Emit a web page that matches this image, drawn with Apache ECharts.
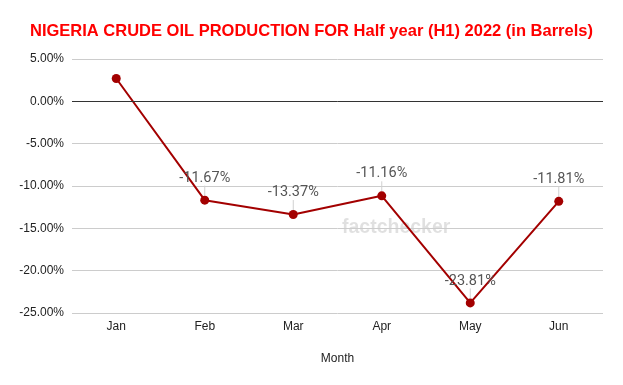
<!DOCTYPE html>
<html><head><meta charset="utf-8">
<script src="https://cdn.jsdelivr.net/npm/echarts@6/dist/echarts.min.js"></script>
<style>html,body{margin:0;padding:0;background:#fff}#c{width:623px;height:385px}</style>
</head><body><div id="c"></div>
<script>
var months = ['Jan','Feb','Mar','Apr','May','Jun'];
var changes = [2.70, -11.67, -13.37, -11.16, -23.81, -11.81];
var showLabel = [false, true, true, true, true, true];

var chart = echarts.init(document.getElementById('c'));
chart.setOption({
  animation: false,
  backgroundColor: '#fff',
  title: {
    text: 'NIGERIA CRUDE OIL PRODUCTION FOR Half year (H1) 2022 (in Barrels)',
    left: 'center', top: 18,
    textStyle: {color: '#ff0000', fontFamily: 'Liberation Sans, Arial', fontWeight: 'bold', fontSize: 16.5}
  },
  graphic: [{
    type: 'text', left: 342, top: 218,
    style: {text: 'factchecker', fill: 'rgba(0,0,0,0.12)', font: 'bold 19.5px "Liberation Sans", Arial'}
  }],
  grid: {left: 72, right: 20, top: 59, bottom: 72},
  xAxis: {
    type: 'category', data: months, boundaryGap: true,
    name: 'Month', nameLocation: 'middle', nameGap: 40,
    nameTextStyle: {color: '#222', fontFamily: 'Liberation Sans, Arial', fontSize: 12},
    axisLine: {show: false}, axisTick: {show: false},
    axisLabel: {color: '#222', fontFamily: 'Liberation Sans, Arial', fontSize: 12, margin: 8}
  },
  yAxis: {
    type: 'value', min: -25, max: 5, interval: 5,
    axisLine: {show: false}, axisTick: {show: false},
    axisLabel: {color: '#222', fontFamily: 'Liberation Sans, Arial', fontSize: 12, margin: 8,
      formatter: function(v){return v.toFixed(2) + '%';}},
    splitLine: {lineStyle: {color: '#cccccc'}}
  },
  series: [{
    type: 'line',
    data: changes.map(function(v, i){ return {value: v, label: {show: showLabel[i]}}; }),
    symbol: 'circle', symbolSize: 9,
    lineStyle: {color: '#a30000', width: 2},
    itemStyle: {color: '#a30000'},
    label: {show: true, position: 'top', distance: 6, color: '#555', fontFamily: 'Roboto', fontSize: 14.5,
      formatter: function(p){ return p.value.toFixed(2) + '%'; }},
    labelLine: {show: true, lineStyle: {color: '#d0d0d0', width: 1}},
    labelLayout: {dy: -4},
    markLine: {
      silent: true, symbol: 'none', label: {show: false},
      lineStyle: {color: '#333', type: 'solid', width: 1},
      data: [{yAxis: 0}]
    },
    z: 3
  }]
});
</script></body></html>
